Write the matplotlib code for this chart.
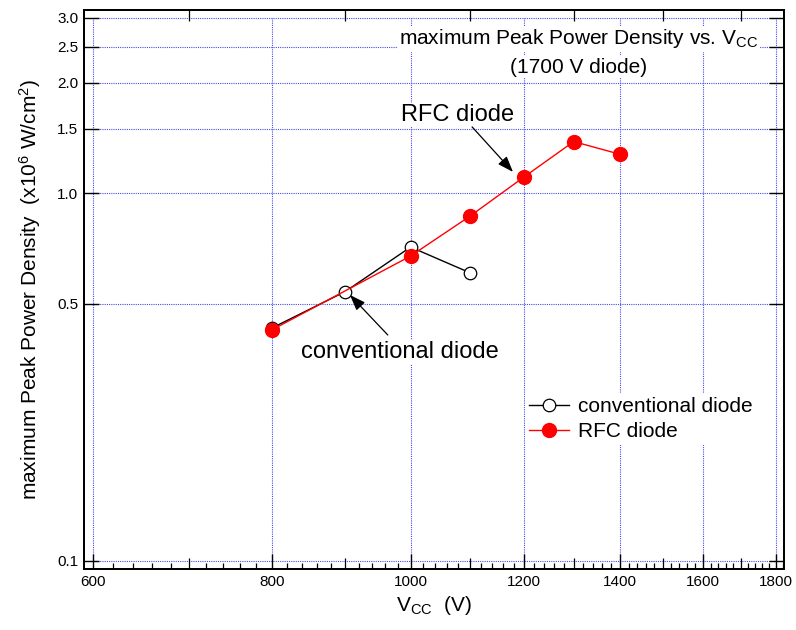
import matplotlib
matplotlib.use('Agg')
import matplotlib.pyplot as plt
import numpy as np

plt.rcParams['font.family'] = ['Liberation Sans', 'DejaVu Sans']
plt.rcParams['mathtext.default'] = 'regular'

# data
vcc_conv = [800, 900, 1000, 1100]
ppd_conv = [0.43, 0.54, 0.714, 0.608]
vcc_rfc = [800, 1000, 1100, 1200, 1300, 1400]
ppd_rfc = [0.425, 0.675, 0.866, 1.107, 1.382, 1.277]

x_major = [600, 800, 1000, 1200, 1400, 1600, 1800]
x_mid = [700, 900, 1100, 1300, 1500, 1700]
y_major = [0.1, 0.5, 1.0, 1.5, 2.0, 2.5, 3.0]
y_labels = ['0.1', '0.5', '1.0', '1.5', '2.0', '2.5', '3.0']

fig = plt.figure(figsize=(7.96, 6.30), dpi=100)
ax = fig.add_axes([0.1055, 0.0968, 0.8794, 0.8873])
ax.set_xscale('log')
ax.set_yscale('log')
xlim = (591.4, 1823)
ylim = (0.0951, 3.15)

# dotted grid only spans the labelled range
grid_kw = dict(color='#4a4af0', linestyle=(0, (1, 1)), linewidth=0.8, zorder=0)
ax.vlines(x_major, y_major[0], y_major[-1], **grid_kw)
ax.hlines(y_major, x_major[0], x_major[-1], **grid_kw)

ax.plot(vcc_conv, ppd_conv, color='black', lw=1.0, marker='o', ms=9,
        mfc='white', mec='black', mew=0.9, label='conventional diode', zorder=3)
ax.plot(vcc_rfc, ppd_rfc, color='red', lw=1.0, marker='o', ms=10,
        mfc='red', mec='red', label='RFC diode', zorder=4)

ax.set_xlim(*xlim)
ax.set_ylim(*ylim)

# ticks
x_minor = [v for v in range(600, 1821, 20) if v not in x_major and v not in x_mid]
ax.set_xticks(x_major, [str(v) for v in x_major])
ax.set_xticks(x_minor, minor=True)
ax.set_xticklabels([], minor=True)
y_minor = [round(v, 1) for v in np.arange(0.2, 3.15, 0.1) if round(v, 1) not in y_major]
ax.set_yticks(y_major, y_labels)
ax.set_yticks(y_minor, minor=True)
ax.set_yticklabels([], minor=True)
ax.tick_params(which='major', direction='in', length=11, width=1.0,
               top=True, right=True, labelsize=11, pad=4)
ax.tick_params(which='minor', direction='in', length=4.5, width=0.9,
               top=True, right=True)
ax.tick_params(axis='y', which='minor', length=6.5)

ax2 = ax.twiny()
ax2.set_xscale('log')
ax2.set_xlim(*xlim)
ax2.set_xticks(x_mid)
ax2.minorticks_off()
ax2.tick_params(which='major', direction='in', length=8, width=0.9,
                top=True, bottom=True, labeltop=False, labelbottom=False)

for a in (ax, ax2):
    for s in a.spines.values():
        s.set_linewidth(1.4)

ax.set_xlabel('V$_{CC}$  (V)', fontsize=15, labelpad=4)
ax.set_ylabel('maximum Peak Power Density  (x10$^{6}$ W/cm$^{2}$)', fontsize=15, labelpad=10)

box = dict(facecolor='white', edgecolor='none', pad=1.0)
ax.text(0.707, 0.939, 'maximum Peak Power Density vs. V$_{CC}$', transform=ax.transAxes,
        ha='center', va='baseline', fontsize=15, bbox=box, zorder=5)
ax.text(0.707, 0.888, '(1700 V diode)', transform=ax.transAxes,
        ha='center', va='baseline', fontsize=15, bbox=box, zorder=5)

ax.text(1079, 1.573, 'RFC diode', ha='center', va='baseline', fontsize=17, bbox=box, zorder=5)
ax.annotate('', xy=(1179, 1.143), xytext=(1104, 1.515),
            arrowprops=dict(arrowstyle='-|>,head_length=0.6,head_width=0.22', color='black',
                            lw=0.9, mutation_scale=16, shrinkA=0, shrinkB=0), zorder=6)
ax.text(983, 0.3565, 'conventional diode', ha='center', va='baseline', fontsize=17, bbox=box, zorder=5)
ax.annotate('', xy=(907, 0.529), xytext=(964, 0.4117),
            arrowprops=dict(arrowstyle='-|>,head_length=0.6,head_width=0.22', color='black',
                            lw=0.9, mutation_scale=16, shrinkA=0, shrinkB=0), zorder=6)

leg = ax.legend(loc='center left', bbox_to_anchor=(0.63, 0.268), fontsize=15,
                frameon=True, framealpha=1, facecolor='white', edgecolor='none',
                fancybox=False, borderpad=0.2, handlelength=1.9, handletextpad=0.45,
                labelspacing=0.3, borderaxespad=0)
leg.set_zorder(5)

fig.savefig('out.png', dpi=100)
